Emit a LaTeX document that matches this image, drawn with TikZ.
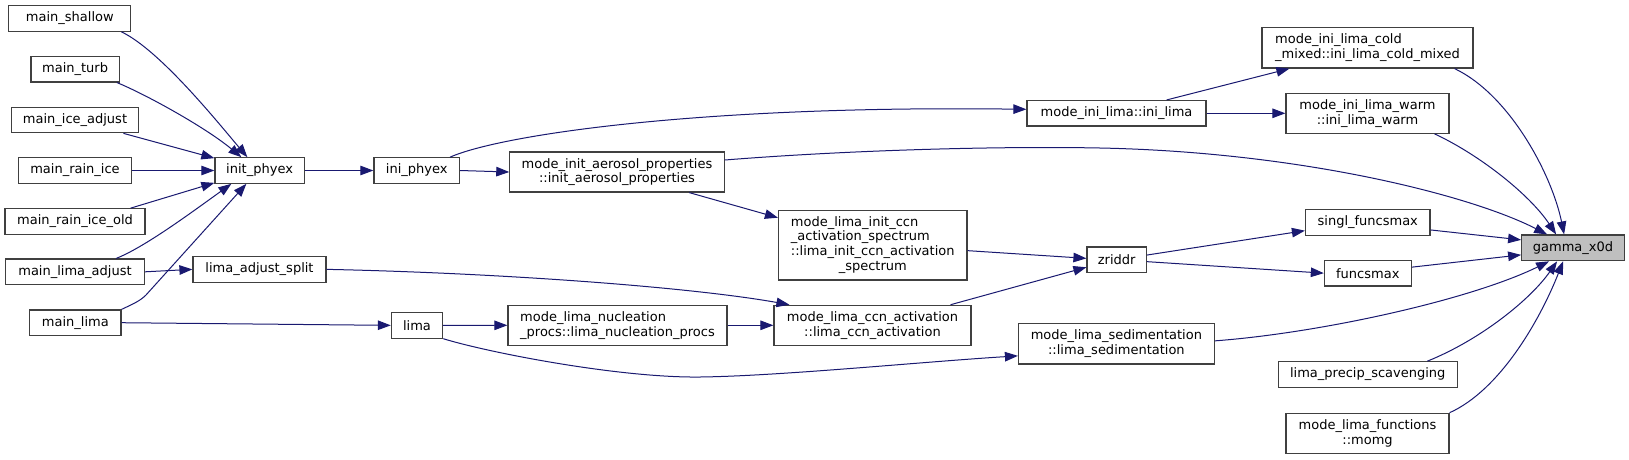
\documentclass[tikz,border=0pt]{standalone}
\usepackage{fontspec}
\setmainfont{DejaVu Sans}
\usetikzlibrary{arrows.meta,calc}
\definecolor{edgeblue}{HTML}{191970}
\definecolor{boxline}{HTML}{404040}
\definecolor{hilite}{HTML}{BFBFBF}
\tikzset{
  fn/.style={draw=boxline, line width=1.2pt, fill=white, inner sep=0pt,
    font=\fontsize{13}{14.6}\selectfont, text=black},
  call/.style={draw=edgeblue, line width=1pt, edgeblue,
    -{Triangle[length=13pt,width=9.5pt]}},
}
\begin{document}
\begin{tikzpicture}[x=1pt,y=-1pt]
\fill[white] (0,0) rectangle (1629,459);
\useasboundingbox (0,0) rectangle (1629,459);

% column 1
\node[fn, minimum width=122pt,   minimum height=25.5pt] (shallow)    at (69.8,18.5)  {main\_shallow};
\node[fn, minimum width=88.4pt,  minimum height=25.5pt] (turb)       at (75.1,69.2)  {main\_turb};
\node[fn, minimum width=127.7pt, minimum height=25.5pt] (iceadj)     at (75,120)     {main\_ice\_adjust};
\node[fn, minimum width=113.7pt, minimum height=25.5pt] (rainice)    at (75,170.5)   {main\_rain\_ice};
\node[fn, minimum width=140pt,   minimum height=25.5pt] (rainiceold) at (75,221.5)   {main\_rain\_ice\_old};
\node[fn, minimum width=139pt,   minimum height=25.5pt] (limaadj)    at (75,271.8)   {main\_lima\_adjust};
\node[fn, minimum width=91.2pt,  minimum height=25.5pt] (mainlima)   at (75.4,322.7) {main\_lima};
% column 2
\node[fn, minimum width=89.3pt,  minimum height=25.5pt] (initphyex)  at (259.6,170.5) {init\_phyex};
\node[fn, minimum width=133pt,   minimum height=25.5pt] (limasplit)  at (259.5,269.35) {lima\_adjust\_split};
% column 3
\node[fn, minimum width=85.5pt,  minimum height=25.5pt] (iniphyex)   at (416.7,170.5) {ini\_phyex};
\node[fn, minimum width=51.2pt,  minimum height=25.5pt] (lima)       at (417,325.35)  {lima};
% column 4
\node[fn, minimum width=214.3pt, minimum height=40pt, align=center] (aerosol) at (617,172)
  {mode\_init\_aerosol\_properties\\::init\_aerosol\_properties};
\node[fn, minimum width=219pt, minimum height=40pt, align=left] (nucl) at (617.5,325.3)
  {mode\_lima\_nucleation\\\_procs::lima\_nucleation\_procs};
% column 5
\node[fn, minimum width=188.5pt, minimum height=69.3pt] (initccn) at (872.75,245.35)
  {\begin{tabular}{@{}l@{}}mode\_lima\_init\_ccn\\\_activation\_spectrum\\::lima\_init\_ccn\_activation\\\multicolumn{1}{@{}c@{}}{\_spectrum}\end{tabular}};
\node[fn, minimum width=197pt, minimum height=40pt, align=center] (ccnact) at (872.5,325.3)
  {mode\_lima\_ccn\_activation\\::lima\_ccn\_activation};
% column 6
\node[fn, minimum width=179pt,   minimum height=25.5pt] (inilima) at (1116.5,113.3) {mode\_ini\_lima::ini\_lima};
\node[fn, minimum width=59.3pt,  minimum height=25.5pt] (zriddr)  at (1116.65,259.65) {zriddr};
\node[fn, minimum width=195.8pt, minimum height=40.3pt, align=center] (sedim) at (1116.4,343.85)
  {mode\_lima\_sedimentation\\::lima\_sedimentation};
% column 7
\node[fn, minimum width=211pt, minimum height=40.3pt, align=left] (cold) at (1367.5,47.85)
  {mode\_ini\_lima\_cold\\\_mixed::ini\_lima\_cold\_mixed};
\node[fn, minimum width=163pt, minimum height=40pt, align=center] (warm) at (1367.5,113.3)
  {mode\_ini\_lima\_warm\\::ini\_lima\_warm};
\node[fn, minimum width=124.5pt, minimum height=25.5pt] (singl)    at (1367.75,222.35) {singl\_funcsmax};
\node[fn, minimum width=86.8pt,  minimum height=25.5pt] (funcsmax) at (1367.8,273.15)  {funcsmax};
\node[fn, minimum width=179pt,   minimum height=25.5pt] (precip)   at (1367.75,374.5)  {lima\_precip\_scavenging};
\node[fn, minimum width=163pt, minimum height=40pt, align=center] (momg) at (1367.5,433.3)
  {mode\_lima\_functions\\::momg};
% target
\node[fn, fill=hilite, minimum width=102.6pt, minimum height=25.7pt] (gam) at (1573,247.85) {gamma\_x0d};

% edges into init_phyex
\draw[call] ($(shallow.south east)+(-10,0)$) .. controls (160,50) and (220,125) .. ($(initphyex.north west)+(33,0)$);
\draw[call] ($(turb.south east)+(-3,0)$) .. controls (145,94) and (205,127) .. ($(initphyex.north west)+(27,0)$);
\draw[call] ($(iceadj.south east)+(-16,0)$) -- ($(initphyex.north west)+(0,1)$);
\draw[call] (rainice.east) -- (initphyex.west);
\draw[call] ($(rainiceold.north east)+(-15,0)$) -- ($(initphyex.south west)+(0,-1)$);
\draw[call] ($(limaadj.north east)+(-29,0)$) .. controls (145,247) and (192,212) .. ($(initphyex.south west)+(17,0)$);
\draw[call] (mainlima.north east) .. controls (133,304) and (140,301) .. (146,295) -- ($(initphyex.south west)+(32,0)$);
% other left edges
\draw[call] (limaadj.east) -- (limasplit.west);
\draw[call] (mainlima.east) -- (lima.west);
\draw[call] (initphyex.east) -- (iniphyex.west);
\draw[call] (iniphyex.east) -- (aerosol.west);
\draw[call] ($(iniphyex.north east)+(-10,0)$) .. controls (500,135) and (700,105) .. ($(inilima.west)+(0,-4)$);
\draw[call] ($(inilima.north east)+(-40,0)$) -- ($(cold.south west)+(28,0)$);
\draw[call] (inilima.east) -- (warm.west);
\draw[call] ($(aerosol.south east)+(-35.5,0)$) -- ($(initccn.north west)+(0,7.6)$);
\draw[call] ($(aerosol.east)+(0,-12)$) .. controls (850,150) and (1000,146) .. (1100,148)
  .. controls (1300,152) and (1470,195) .. ($(gam.north west)+(26,0)$);
\draw[call] ($(cold.south east)+(-19,0)$) .. controls (1510,95) and (1552,175) .. ($(gam.north west)+(43,0)$);
\draw[call] ($(warm.south east)+(-15,0)$) .. controls (1480,155) and (1530,195) .. ($(gam.north west)+(35,0)$);
\draw[call] ($(initccn.east)+(0,5.3)$) -- ($(zriddr.west)+(0,-1.3)$);
\draw[call] ($(ccnact.north east)+(-21,0)$) -- ($(zriddr.west)+(0,7.6)$);
\draw[call] ($(zriddr.east)+(0,-4.6)$) -- ($(singl.west)+(0,8.3)$);
\draw[call] ($(zriddr.east)+(0,2)$) -- (funcsmax.west);
\draw[call] ($(singl.east)+(0,7.6)$) -- ($(gam.west)+(0,-8)$);
\draw[call] ($(funcsmax.east)+(0,-6)$) -- ($(gam.west)+(0,7)$);
\draw[call] (limasplit.east) .. controls (500,273) and (690,287) .. ($(ccnact.north west)+(16,0)$);
\draw[call] (lima.east) -- (nucl.west);
\draw[call] (nucl.east) -- (ccnact.west);
\draw[call] (lima.south east) .. controls (490,353) and (620,378) .. (700,377)
  .. controls (780,376) and (920,362) .. ($(sedim.west)+(0,12)$);
\draw[call] ($(sedim.east)+(0,-3)$) .. controls (1320,333) and (1470,300) .. ($(gam.south west)+(28,0)$);
\draw[call] ($(precip.north east)+(-30.5,0)$) .. controls (1480,340) and (1530,300) .. ($(gam.south west)+(36,0)$);
\draw[call] (momg.north east) .. controls (1500,390) and (1540,320) .. ($(gam.south west)+(42,0)$);
\end{tikzpicture}
\end{document}
